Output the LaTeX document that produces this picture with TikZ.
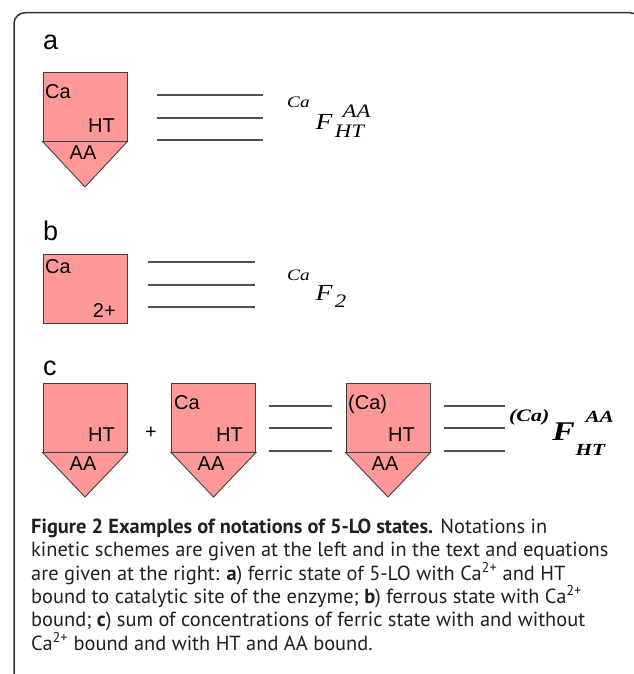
\documentclass[tikz,border=0pt]{standalone}
\usepackage{graphicx}
\usepackage{fontspec}
\newfontfamily\arialfont{Liberation Sans}
\newfontfamily\tnrfont{Liberation Serif}
\newfontfamily\capfont{PT Sans}
\definecolor{boxfill}{RGB}{255,153,153}
\definecolor{boxline}{RGB}{64,64,64}
\definecolor{eqline}{RGB}{80,80,80}
\definecolor{framecol}{RGB}{50,50,50}
\definecolor{captext}{RGB}{35,31,32}

\begin{document}
\begin{tikzpicture}[x=1pt, y=-1pt,
    every node/.style={inner sep=0pt},
    sq/.style={rectangle, draw=boxline, fill=boxfill, line width=0.9pt,
               minimum width=84pt, minimum height=69pt},
    tri/.style={draw=boxline, fill=boxfill, line width=0.9pt},
    tx/.style={font=\arialfont\fontsize{20}{24}\selectfont},
    hd/.style={font=\arialfont\fontsize{27}{32}\selectfont, anchor=base west},
    eq/.style={draw=eqline, line width=1.2pt},
    fm/.style={font=\tnrfont\itshape\fontsize{23}{26}\selectfont, anchor=base west},
    fmc/.style={font=\tnrfont\bfseries\itshape\fontsize{27}{30}\selectfont,
                anchor=base west},
    capl/.style={font=\capfont\fontsize{20.4}{23}\selectfont, anchor=base west,
                 text=captext},
    brd/.style={draw=framecol, line width=1.5pt, rounded corners=11pt},
  ]
  \useasboundingbox (0,0) rectangle (633,674);
  \draw[brd] (14,700) -- (14,12.7) -- (641,12.7) -- (641,700);
  % a
  \node[hd] (la) at (43,50) {a};
  \node[sq] (sqa) at (85,106.5) {};
  \coordinate (tipa) at (85,187);
  \filldraw[tri] (sqa.south west) -- (tipa) -- (sqa.south east) -- cycle;
  \node[tx, anchor=base west] (caa) at (45,99) {Ca};
  \node[tx, anchor=base east] (hta) at (115,132) {HT};
  \node[tx, anchor=base] (aaa) at (83,159) {AA};
  \draw[eq] (157,95) -- (263,95) (157,118) -- (263,118) (157,140) -- (263,140);
  \node[fm] (fa) at (287,129)
    {\scalebox{1.2}[1]{\raisebox{21pt}{\fontsize{16}{16}\selectfont Ca}\hspace{5pt}F\hspace{2pt}%
     \rlap{\hspace{6.5pt}\raisebox{12pt}{\fontsize{19}{19}\selectfont AA}}%
     \raisebox{-8pt}{\fontsize{19}{19}\selectfont HT}}};
  % b
  \node[hd] (lb) at (43,240) {b};
  \node[sq] (sqb) at (85,288.5) {};
  \node[tx, anchor=base west] (cab) at (45,273) {Ca};
  \node[tx, anchor=base east] (twob) at (116,317) {2+};
  \draw[eq] (148,262) -- (255,262) (148,285) -- (255,285) (148,307) -- (255,307);
  \node[fm] (fb) at (287,300)
    {\scalebox{1.2}[1]{\raisebox{20pt}{\fontsize{16}{16}\selectfont Ca}\hspace{5pt}F\hspace{2pt}%
     \raisebox{-7pt}{\fontsize{19}{19}\selectfont 2}}};
  % c
  \node[hd] (lc) at (43,375) {c};
  \node[sq] (sqc1) at (85,417.5) {};
  \coordinate (tipc1) at (85,497);
  \filldraw[tri] (sqc1.south west) -- (tipc1) -- (sqc1.south east) -- cycle;
  \node[tx, anchor=base east] (htc1) at (115,441) {HT};
  \node[tx, anchor=base] (aac1) at (83,470) {AA};
  \node[tx] (plus) at (151,433) {+};
  \node[sq] (sqc2) at (213.5,417.5) {};
  \coordinate (tipc2) at (213.5,497);
  \filldraw[tri] (sqc2.south west) -- (tipc2) -- (sqc2.south east) -- cycle;
  \node[tx, anchor=base west] (cac2) at (174,409) {Ca};
  \node[tx, anchor=base east] (htc2) at (243,441) {HT};
  \node[tx, anchor=base] (aac2) at (211,470) {AA};
  \draw[eq] (269,406) -- (332,406) (269,428) -- (332,428) (269,451) -- (332,451);
  \node[sq] (sqc3) at (388,417.5) {};
  \coordinate (tipc3) at (388,497);
  \filldraw[tri] (sqc3.south west) -- (tipc3) -- (sqc3.south east) -- cycle;
  \node[tx, anchor=base west] (cac3) at (348,409) {(Ca)};
  \node[tx, anchor=base east] (htc3) at (415,441) {HT};
  \node[tx, anchor=base] (aac3) at (385,470) {AA};
  \draw[eq] (444,406) -- (505,406) (444,428) -- (505,428) (444,451) -- (505,451);
  \node[fmc] (fc) at (509,440)
    {\scalebox{1.25}[1]{\raisebox{19pt}{\fontsize{17.5}{18}\selectfont (Ca)}\hspace{2.5pt}F%
     \hspace{0.5pt}\rlap{\hspace{8pt}\raisebox{18pt}{\fontsize{17}{17}\selectfont AA}}%
     \raisebox{-15pt}{\fontsize{17}{17}\selectfont HT}}};
  % caption
  \node[capl] (cap1) at (31,533.5)
    {\textbf{Figure 2 Examples of notations of 5-LO states.} Notations in};
  \node[capl] (cap2) at (31,556.8)
    {kinetic schemes are given at the left and in the text and equations};
  \node[capl] (cap3) at (31,580.1)
    {are given at the right: \textbf{a}) ferric state of 5-LO with Ca\textsuperscript{2+} and HT};
  \node[capl] (cap4) at (31,603.4)
    {bound to catalytic site of the enzyme; \textbf{b}) ferrous state with Ca\textsuperscript{2+}};
  \node[capl] (cap5) at (31,626.7)
    {bound; \textbf{c}) sum of concentrations of ferric state with and without};
  \node[capl] (cap6) at (31,650)
    {Ca\textsuperscript{2+} bound and with HT and AA bound.};
\end{tikzpicture}
\end{document}
